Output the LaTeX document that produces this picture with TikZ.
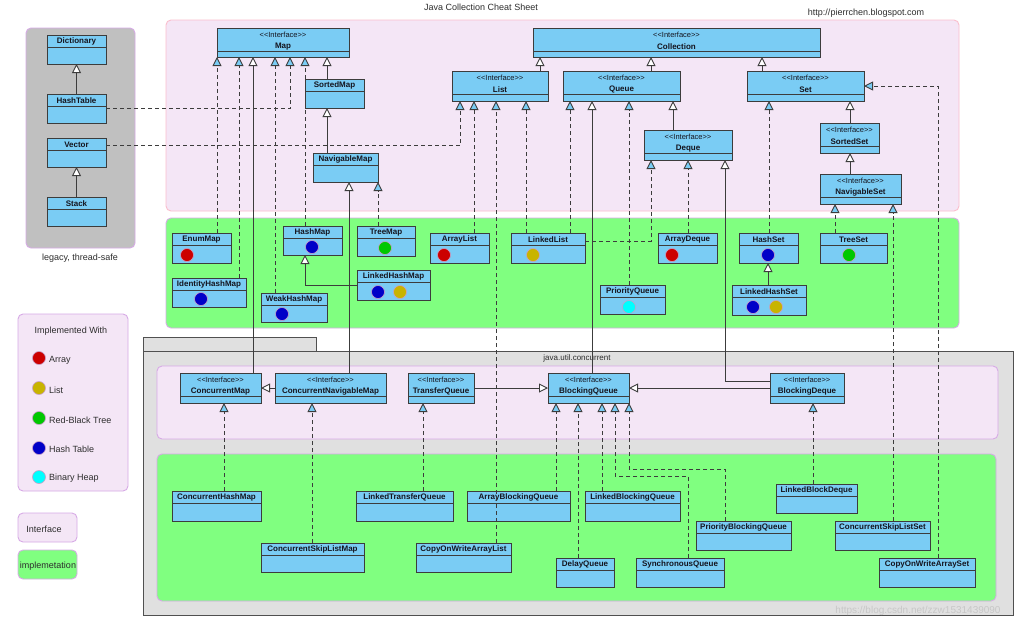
\documentclass[tikz,border=0pt]{standalone}
\usepackage{fontspec}
\newfontfamily\lsans{Liberation Sans}
\usetikzlibrary{arrows.meta}
\definecolor{nodeblue}{RGB}{122,204,244}
\definecolor{edge}{RGB}{60,60,60}
\definecolor{txt}{RGB}{20,20,30}
\definecolor{lbltxt}{RGB}{45,45,45}
\definecolor{ifpink}{RGB}{244,230,246}
\definecolor{ifborder}{RGB}{250,190,205}
\definecolor{impgreen}{RGB}{128,255,128}
\definecolor{purpborder}{RGB}{215,170,230}
\definecolor{legacygray}{RGB}{192,192,192}
\definecolor{concgray}{RGB}{224,224,224}
\definecolor{circborder}{RGB}{200,160,200}
\definecolor{cred}{RGB}{204,0,0}
\definecolor{cyellow}{RGB}{200,180,0}
\definecolor{cgreen}{RGB}{0,200,0}
\definecolor{cblue}{RGB}{0,0,200}
\definecolor{ccyan}{RGB}{0,255,255}
\newcommand\stereo{<<Interface>>}
\newcommand\ClassBox[6]{%
  \node[box, minimum width={(#4)-(#2)}, minimum height={(#5)-(#3)}] (#1) at (#2,#3) {};
  \draw[sepline] ([yshift=-12pt]#1.north west) -- ([yshift=-12pt]#1.north east);
  \node[nm] at ([yshift=-6.5pt]#1.north) {#6};
}
\newcommand\InterfaceBox[6]{%
  \node[box, minimum width={(#4)-(#2)}, minimum height={(#5)-(#3)}] (#1) at (#2,#3) {};
  \draw[sepline] ([yshift=-23.5pt]#1.north west) -- ([yshift=-23.5pt]#1.north east);
  \node[st] at ([yshift=-6.5pt]#1.north) {\stereo};
  \node[nm] at ([yshift=-18.5pt]#1.north) {#6};
}
\newcommand\impdot[3]{\filldraw[fill=#3, draw=circborder, line width=0.6pt] (#1,#2) circle[radius=6.5];}
\newcommand\vconn[4]{\draw[#1] (#2,0 |- #3.north) -- (#2,0 |- #4.south);}
\begin{document}
\begin{tikzpicture}[x=1pt,y=-1pt,
  every node/.style={font=\lsans},
  box/.style={draw=edge, fill=nodeblue, line width=0.9pt, inner sep=0pt, outer sep=0pt, anchor=north west, rectangle},
  nm/.style={font=\lsans\bfseries\fontsize{8}{9}\selectfont, text=txt, inner sep=0pt},
  st/.style={font=\lsans\fontsize{7.5}{9}\selectfont, text=txt, inner sep=0pt},
  lbl/.style={font=\lsans\fontsize{9}{10}\selectfont, text=lbltxt, inner sep=0pt},
  sepline/.style={draw=edge, line width=0.9pt},
  gen/.style={draw=edge, line width=0.9pt, -{Triangle[length=9pt,width=9pt,fill=white]}},
  real/.style={draw=edge, line width=0.9pt, dash pattern=on 4pt off 3pt, -{Triangle[length=9pt,width=9pt,fill=nodeblue]}},
  ifregion/.style={fill=ifpink, draw=ifborder, line width=0.9pt, rounded corners=5pt},
  impregion/.style={fill=impgreen, draw=purpborder, line width=0.9pt, rounded corners=5pt},
]
\useasboundingbox (0,0) rectangle (1024,625);
\fill[white] (0,0) rectangle (1024,625);

% ---------- regions ----------
\path[fill=legacygray, draw=purpborder, line width=0.9pt, rounded corners=5pt] (26,28) rectangle (135,248);
\path[ifregion] (166,20) rectangle (959,211);
\path[impregion] (166,218) rectangle (959,328);
\path[fill=concgray, draw=edge!90, line width=0.9pt] (143,337) rectangle (316,351);
\path[fill=concgray, draw=edge!90, line width=0.9pt] (143,351) rectangle (1013,615);
\path[ifregion, draw=purpborder] (157,366) rectangle (998,439);
\path[impregion] (157,454) rectangle (996,601);
% legend
\path[ifregion, draw=purpborder] (18,314) rectangle (128,491);
\path[ifregion, draw=purpborder] (18,513) rectangle (77,542);
\path[impregion] (18,550) rectangle (77,579);

% ---------- texts ----------
\node[lbl] (title) at (481,7) {Java Collection Cheat Sheet};
\node[lbl] (url) at (866,13) {http://pierrchen.blogspot.com};
\node[lbl] (legacylbl) at (80,258) {legacy, thread-safe};
\node[lbl, font=\lsans\fontsize{8}{9}\selectfont] (conclbl) at (577,358) {java.util.concurrent};
\node[lbl] (implwith) at (71,331) {Implemented With};
\impdot{39}{358}{cred}
\node[lbl, anchor=west] (lg1) at (49,360) {Array};
\impdot{39}{388}{cyellow}
\node[lbl, anchor=west] (lg2) at (49,390) {List};
\impdot{39}{418}{cgreen}
\node[lbl, anchor=west] (lg3) at (49,420) {Red-Black Tree};
\impdot{39}{448}{cblue}
\node[lbl, anchor=west] (lg4) at (49,449) {Hash Table};
\impdot{39}{477}{ccyan}
\node[lbl, anchor=west] (lg5) at (49,478) {Binary Heap};
\node[lbl] (lgif) at (44,529) {Interface};
\node[lbl] (lgimp) at (48,566) {implemetation};
\node[font=\lsans\fontsize{10}{11}\selectfont, text=black!22] (wm) at (918,611) {https://blog.csdn.net/zzw1531439090};

% ---------- legacy ----------
\ClassBox{dictionary}{47}{35}{106}{64}{Dictionary}
\ClassBox{hashtable}{47}{94}{106}{123}{HashTable}
\ClassBox{vector}{47}{138}{106}{167}{Vector}
\ClassBox{stack}{47}{197}{106}{226}{Stack}

% ---------- interfaces ----------
\InterfaceBox{map}{217}{28}{349}{57}{Map}
\InterfaceBox{collection}{533}{28}{820}{57}{Collection}
\InterfaceBox{list}{452}{71}{548}{101}{List}
\InterfaceBox{queue}{563}{71}{680}{101}{Queue}
\InterfaceBox{set}{747}{71}{864}{101}{Set}
\InterfaceBox{deque}{644}{130}{732}{160}{Deque}
\InterfaceBox{sortedset}{820}{123}{879}{153}{SortedSet}
\InterfaceBox{navigableset}{820}{174}{901}{204}{NavigableSet}
\ClassBox{sortedmap}{305}{79}{364}{108}{SortedMap}
\ClassBox{navigablemap}{313}{153}{378}{182}{NavigableMap}

% ---------- implementations ----------
\ClassBox{enummap}{172}{233}{231}{263}{EnumMap}
\impdot{187}{255}{cred}
\ClassBox{identityhashmap}{172}{278}{246}{307}{IdentityHashMap}
\impdot{201}{299}{cblue}
\ClassBox{hashmap}{283}{226}{342}{255}{HashMap}
\impdot{312}{247}{cblue}
\ClassBox{weakhashmap}{261}{293}{327}{322}{WeakHashMap}
\impdot{282}{314}{cblue}
\ClassBox{treemap}{357}{226}{415}{256}{TreeMap}
\impdot{385}{248}{cgreen}
\ClassBox{linkedhashmap}{357}{270}{430}{300}{LinkedHashMap}
\impdot{378}{292}{cblue}
\impdot{400}{292}{cyellow}
\ClassBox{arraylist}{430}{233}{489}{263}{ArrayList}
\impdot{444}{255}{cred}
\ClassBox{linkedlist}{511}{233}{585}{263}{LinkedList}
\impdot{533}{255}{cyellow}
\ClassBox{arraydeque}{658}{233}{717}{263}{ArrayDeque}
\impdot{672}{255}{cred}
\ClassBox{priorityqueue}{600}{285}{665}{314}{PriorityQueue}
\impdot{629}{307}{ccyan}
\ClassBox{hashset}{739}{233}{798}{263}{HashSet}
\impdot{768}{255}{cblue}
\ClassBox{linkedhashset}{732}{285}{806}{315}{LinkedHashSet}
\impdot{753}{307}{cblue}
\impdot{776}{307}{cyellow}
\ClassBox{treeset}{820}{233}{887}{263}{TreeSet}
\impdot{849}{255}{cgreen}

% ---------- java.util.concurrent ----------
\InterfaceBox{cmap}{180}{373}{261}{403}{ConcurrentMap}
\InterfaceBox{cnavmap}{275}{373}{386}{403}{ConcurrentNavigableMap}
\InterfaceBox{transferq}{408}{373}{474}{403}{TransferQueue}
\InterfaceBox{bq}{548}{373}{629}{403}{BlockingQueue}
\InterfaceBox{bdeque}{770}{373}{844}{403}{BlockingDeque}

\ClassBox{chm}{172}{491}{261}{521}{ConcurrentHashMap}
\ClassBox{csklm}{261}{543}{364}{572}{ConcurrentSkipListMap}
\ClassBox{ltq}{356}{491}{453}{521}{LinkedTransferQueue}
\ClassBox{abq}{467}{491}{570}{521}{ArrayBlockingQueue}
\ClassBox{cowal}{416}{543}{511}{572}{CopyOnWriteArrayList}
\ClassBox{lbq}{585}{491}{680}{521}{LinkedBlockingQueue}
\ClassBox{delayq}{556}{558}{614}{587}{DelayQueue}
\ClassBox{syncq}{636}{558}{724}{587}{SynchronousQueue}
\ClassBox{pbq}{696}{521}{791}{550}{PriorityBlockingQueue}
\ClassBox{lbd}{776}{484}{857}{513}{LinkedBlockDeque}
\ClassBox{cskls}{835}{521}{930}{550}{ConcurrentSkipListSet}
\ClassBox{cowas}{879}{558}{975}{587}{CopyOnWriteArraySet}

% ---------- connectors ----------
% legacy
\draw[gen] (hashtable) -- (dictionary);
\draw[gen] (stack) -- (vector);
\draw[real] (hashtable.east) -| (290,0 |- map.south);
\draw[real] ([yshift=7pt]vector.east) -| (460,0 |- list.south);
% map
\vconn{real}{217}{enummap}{map}
\vconn{real}{239}{identityhashmap}{map}
\vconn{gen}{253}{cmap}{map}
\vconn{real}{275}{weakhashmap}{map}
\vconn{real}{305}{hashmap}{map}
\vconn{gen}{327}{sortedmap}{map}
\vconn{gen}{327}{navigablemap}{sortedmap}
\vconn{gen}{349}{cnavmap}{navigablemap}
\vconn{real}{378}{treemap}{navigablemap}
\draw[gen] (linkedhashmap.west) -| (305,0 |- hashmap.south);
% list
\vconn{gen}{540}{list}{collection}
\vconn{real}{474}{arraylist}{list}
\vconn{real}{496}{cowal}{list}
\vconn{real}{526}{linkedlist}{list}
% queue
\vconn{gen}{651}{queue}{collection}
\vconn{real}{570}{linkedlist}{queue}
\vconn{gen}{592}{bq}{queue}
\vconn{real}{629}{priorityqueue}{queue}
\vconn{gen}{673}{deque}{queue}
\draw[real] ([yshift=7pt]linkedlist.east) -| (651,0 |- deque.south);
\vconn{real}{688}{arraydeque}{deque}
\draw[gen] ([yshift=7pt]bdeque.west) -| (725,0 |- deque.south);
% set
\vconn{gen}{762}{set}{collection}
\vconn{real}{769}{hashset}{set}
\vconn{gen}{850}{sortedset}{set}
\vconn{gen}{850}{navigableset}{sortedset}
\vconn{real}{835}{treeset}{navigableset}
\vconn{real}{893}{cskls}{navigableset}
\vconn{gen}{768}{linkedhashset}{hashset}
\draw[real] (938,0 |- cowas.north) |- (set.east);
% concurrent
\draw[gen] (cnavmap.west) -- (cmap.east);
\draw[gen] (transferq.east) -- (transferq.east -| bq.west);
\draw[gen] (bdeque.west) -- (bdeque.west -| bq.east);
\vconn{real}{224}{chm}{cmap}
\vconn{real}{312}{csklm}{cnavmap}
\vconn{real}{423}{ltq}{transferq}
\vconn{real}{556}{abq}{bq}
\vconn{real}{578}{delayq}{bq}
\vconn{real}{602}{lbq}{bq}
\draw[real] (688,0 |- syncq.north) -- (688,476) -| (615,0 |- bq.south);
\draw[real] (725,0 |- pbq.north) -- (725,469) -| (629,0 |- bq.south);
\vconn{real}{813}{lbd}{bdeque}
\end{tikzpicture}
\end{document}
